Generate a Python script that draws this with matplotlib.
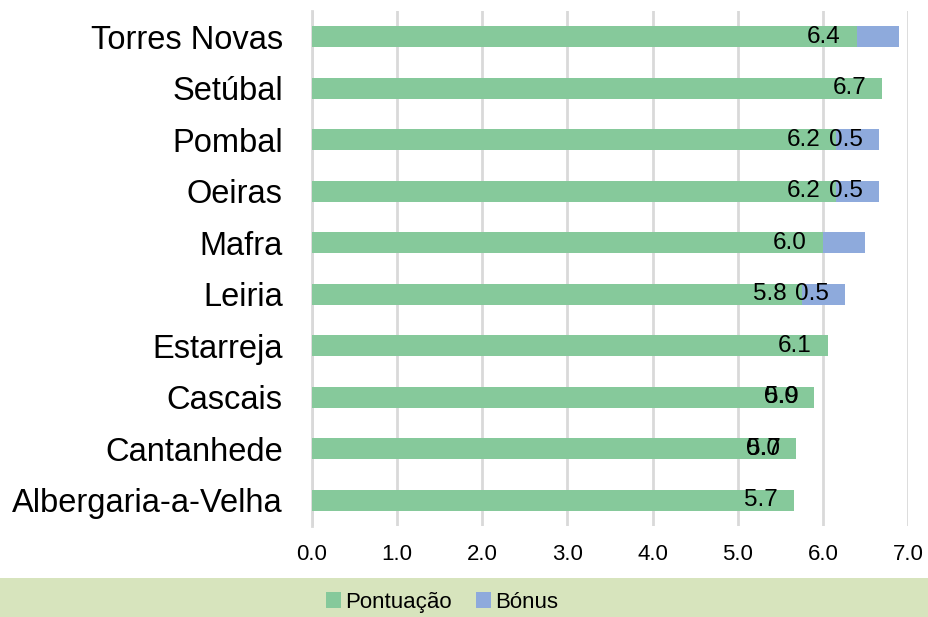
import matplotlib.pyplot as plt
from matplotlib.patches import Rectangle

# bottom to top
concelhos = ['Albergaria-a-Velha', 'Cantanhede', 'Cascais', 'Estarreja', 'Leiria',
             'Mafra', 'Oeiras', 'Pombal', 'Setúbal', 'Torres Novas']
pontuacao = [5.66, 5.69, 5.9, 6.06, 5.76, 6.0, 6.16, 6.16, 6.7, 6.4]
bonus = [0.0, 0.0, 0.0, 0.0, 0.5, 0.5, 0.5, 0.5, 0.0, 0.5]
bonus_labels = ['', '0.0', '0.0', '', '0.5', '', '0.5', '0.5', '', '']

green = '#86c99b'
blue = '#8eaadc'

plt.rcParams['font.family'] = ['Liberation Sans', 'DejaVu Sans']

fig = plt.figure(figsize=(9.29, 6.17), dpi=100)
ax = fig.add_axes([0.3358, 0.1475, 0.6416, 0.8347])

y = list(range(len(concelhos)))
ax.barh(y, pontuacao, height=0.4, color=green, label='Pontuação', zorder=3)
ax.barh(y, bonus, left=pontuacao, height=0.4, color=blue, label='Bónus', zorder=3)

for i in y:
    ax.annotate(f'{pontuacao[i]:.1f}', (pontuacao[i], i), xytext=(-11.5, 0),
                textcoords='offset points', ha='right', va='center', fontsize=17.5, zorder=4)
    if bonus_labels[i]:
        ax.annotate(bonus_labels[i], (pontuacao[i] + bonus[i], i), xytext=(-11.5, 0),
                    textcoords='offset points', ha='right', va='center', fontsize=17.5, zorder=4)

ax.set_xlim(0, 7)
ax.set_ylim(-0.5, len(concelhos) - 0.5)
ax.set_xticks([0, 1, 2, 3, 4, 5, 6, 7])
ax.set_xticklabels([f'{v:.1f}' for v in range(8)], fontsize=16)
ax.set_yticks(y)
ax.set_yticklabels(concelhos, fontsize=23.5)
ax.tick_params(axis='x', length=0, pad=13)
ax.tick_params(axis='y', length=0, pad=21)
ax.grid(axis='x', color='#d9d9d9', linewidth=2, zorder=0)
for s in ['top', 'right', 'bottom']:
    ax.spines[s].set_visible(False)
ax.spines['left'].set_color('#d9d9d9')
ax.spines['left'].set_linewidth(2)

# legend band
fig.patches.append(Rectangle((0, 0), 1, 39 / 617, transform=fig.transFigure,
                             facecolor='#d7e4bd', edgecolor='none', zorder=0))
fig.legend(loc='center', bbox_to_anchor=(0.476, 0.024), ncol=2, frameon=False,
           fontsize=16, handlelength=0.65, handleheight=0.7,
           handletextpad=0.2, columnspacing=1.1)

fig.savefig('out.png', dpi=100)
